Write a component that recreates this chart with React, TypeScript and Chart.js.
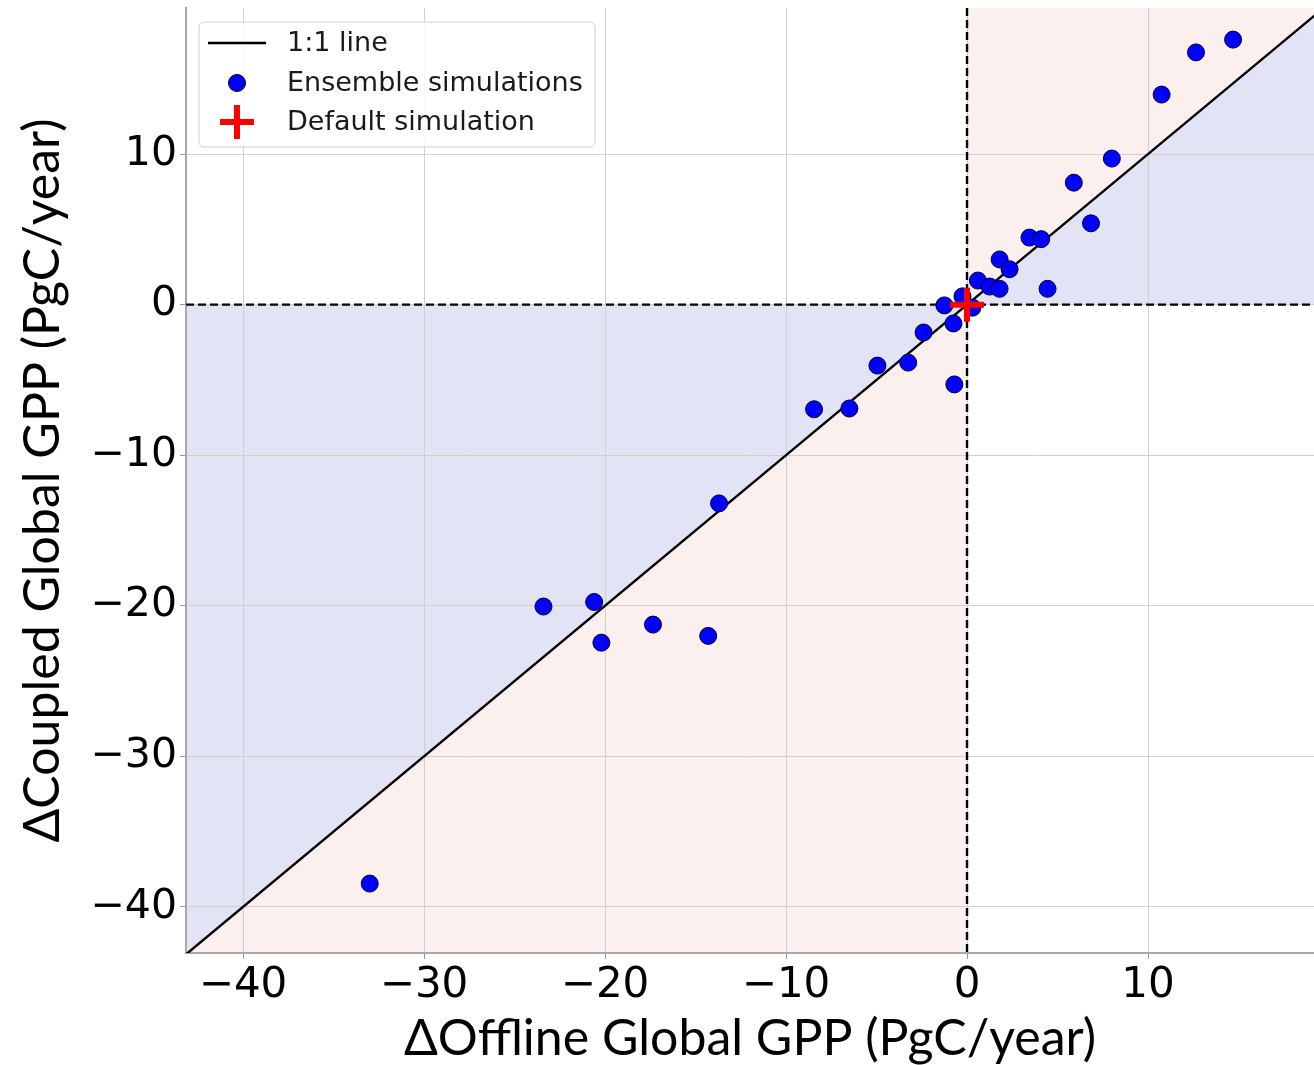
import React, { useEffect, useRef } from "react";
import { Chart, registerables } from "chart.js";

Chart.register(...registerables);

// Ensemble simulations (Δ offline GPP, Δ coupled GPP), PgC/year
const offlineGPP = [
  -33.0, -23.4, -20.6, -20.2, -17.35, -14.3, -13.7, -8.45, -6.5, -4.95,
  -3.25, -2.4, -1.25, -0.75, -0.7, -0.25, 0.3, 0.6, 1.25, 1.8,
  1.8, 2.35, 3.45, 4.1, 4.45, 6.85, 5.9, 8.0, 10.75, 12.65, 14.7,
];
const coupledGPP = [
  -38.45, -20.05, -19.75, -22.45, -21.25, -22.0, -13.2, -6.95, -6.9, -4.05,
  -3.85, -1.85, -0.05, -1.25, -5.3, 0.55, -0.2, 1.6, 1.2, 1.05,
  3.0, 2.35, 4.45, 4.35, 1.05, 5.4, 8.1, 9.7, 13.95, 16.75, 17.6,
];
const defaultOffline = [0];
const defaultCoupled = [0];
const oneToOne = [-100, 100];
const tickValues = [-40, -30, -20, -10, 0, 10];
const xLimits = [-43.15, 19.17];
const yLimits = [-43.06, 19.7];

const legendLabels = ["1:1 line", "Ensemble simulations", "Default simulation"];
const xTitle = "\u0394Offline Global GPP (PgC/year)";
const yTitle = "\u0394Coupled Global GPP (PgC/year)";

const BLUE_FILL = "#e3e3f6";
const PINK_FILL = "#fcf0ee";

const fmt = (v: number) => (v < 0 ? "\u2212" + Math.abs(v) : String(v));

const quadPlugin = {
  id: "quadrants",
  beforeDraw(chart: any) {
    const { ctx, chartArea: a, scales } = chart;
    const x = scales.x;
    const y = scales.y;
    const P = (vx: number, vy: number) => [x.getPixelForValue(vx), y.getPixelForValue(vy)];
    const poly = (pts: number[][], color: string) => {
      ctx.beginPath();
      pts.forEach((p, i) => {
        const [px, py] = P(p[0], p[1]);
        if (i === 0) ctx.moveTo(px, py);
        else ctx.lineTo(px, py);
      });
      ctx.closePath();
      ctx.fillStyle = color;
      ctx.fill();
    };
    ctx.save();
    ctx.beginPath();
    ctx.rect(a.left, a.top, a.right - a.left, a.bottom - a.top);
    ctx.clip();
    const L = -100;
    const H = 100;
    poly([[L, L], [0, 0], [L, 0]], BLUE_FILL);
    poly([[0, 0], [H, H], [H, 0]], BLUE_FILL);
    poly([[L, L], [0, 0], [0, L]], PINK_FILL);
    poly([[0, 0], [H, H], [0, H]], PINK_FILL);
    ctx.restore();
  },
  beforeDatasetsDraw(chart: any) {
    const { ctx, chartArea: a, scales } = chart;
    const px = scales.x.getPixelForValue(0);
    const py = scales.y.getPixelForValue(0);
    ctx.save();
    ctx.strokeStyle = "#000";
    ctx.lineWidth = 2.4;
    ctx.setLineDash([8, 4]);
    ctx.beginPath();
    ctx.moveTo(px, a.top);
    ctx.lineTo(px, a.bottom);
    ctx.moveTo(a.left, py);
    ctx.lineTo(a.right, py);
    ctx.stroke();
    ctx.restore();
  },
  afterDatasetsDraw(chart: any) {
    const { ctx, chartArea: a } = chart;
    const bx = a.left + 13;
    const by = a.top + 14;
    const bw = 396;
    const bh = 125;
    ctx.save();
    ctx.beginPath();
    if (ctx.roundRect) ctx.roundRect(bx, by, bw, bh, 5);
    else ctx.rect(bx, by, bw, bh);
    ctx.fillStyle = "rgba(255,255,255,0.85)";
    ctx.fill();
    ctx.strokeStyle = "#d0d0d0";
    ctx.lineWidth = 1;
    ctx.stroke();

    const rows = [by + 21, by + 61, by + 100];
    const cx = bx + 38;
    // line sample
    ctx.strokeStyle = "#000";
    ctx.lineWidth = 2.4;
    ctx.beginPath();
    ctx.moveTo(bx + 9, rows[0]);
    ctx.lineTo(bx + 67, rows[0]);
    ctx.stroke();
    // circle sample
    ctx.beginPath();
    ctx.arc(cx, rows[1], 8.5, 0, Math.PI * 2);
    ctx.fillStyle = "#0000ff";
    ctx.fill();
    ctx.strokeStyle = "#000033";
    ctx.lineWidth = 1;
    ctx.stroke();
    // cross sample
    ctx.strokeStyle = "#ff0000";
    ctx.lineWidth = 6;
    ctx.beginPath();
    ctx.moveTo(cx - 17, rows[2]);
    ctx.lineTo(cx + 17, rows[2]);
    ctx.moveTo(cx, rows[2] - 17);
    ctx.lineTo(cx, rows[2] + 17);
    ctx.stroke();

    ctx.fillStyle = "#1a1a1a";
    ctx.font = "27px 'DejaVu Sans'";
    ctx.textBaseline = "middle";
    ctx.textAlign = "left";
    legendLabels.forEach((t, i) => ctx.fillText(t, bx + 88, rows[i] + 1));
    ctx.restore();
  },
};

export default function App() {
  const ref = useRef<HTMLCanvasElement | null>(null);

  useEffect(() => {
    document.body.style.margin = "0";
    const canvas = ref.current;
    if (!canvas) return;

    const chart = new Chart(canvas, {
      type: "scatter",
      data: {
        datasets: [
          {
            label: legendLabels[2],
            data: defaultOffline.map((v, i) => ({ x: v, y: defaultCoupled[i] })),
            pointStyle: "cross",
            pointRadius: 17,
            pointBorderWidth: 6,
            borderColor: "#ff0000",
            backgroundColor: "#ff0000",
          },
          {
            label: legendLabels[1],
            data: offlineGPP.map((v, i) => ({ x: v, y: coupledGPP[i] })),
            pointStyle: "circle",
            pointRadius: 8.5,
            pointBorderWidth: 1,
            borderColor: "#000033",
            backgroundColor: "#0000ff",
          },
          {
            type: "line",
            label: legendLabels[0],
            data: oneToOne.map((v) => ({ x: v, y: v })),
            borderColor: "#000",
            borderWidth: 2.4,
            pointRadius: 0,
            fill: false,
          } as any,
        ],
      },
      options: {
        animation: false,
        responsive: false,
        maintainAspectRatio: false,
        layout: { autoPadding: false, padding: { top: 8, right: 0, left: 0, bottom: 0 } },
        plugins: {
          legend: { display: false },
          tooltip: { enabled: false },
        },
        scales: {
          x: {
            type: "linear",
            min: xLimits[0],
            max: xLimits[1],
            afterBuildTicks: (s: any) => {
              s.ticks = tickValues.map((v) => ({ value: v }));
            },
            afterFit: (s: any) => {
              s.height = 112;
              s.paddingLeft = 0;
              s.paddingRight = 0;
            },
            ticks: {
              callback: (v: any) => fmt(Number(v)),
              color: "#000",
              font: { family: "'DejaVu Sans'", size: 42 },
              padding: 2,
              maxRotation: 0,
            },
            grid: { color: "#d0d0d0", lineWidth: 1, tickLength: 6, tickColor: "#999" },
            border: { color: "#a8a8a8", width: 2 },
            title: {
              display: true,
              text: xTitle,
              color: "#000",
              font: { family: "Lato", size: 50 },
              padding: { top: 0, bottom: -4 },
            },
          },
          y: {
            type: "linear",
            min: yLimits[0],
            max: yLimits[1],
            afterBuildTicks: (s: any) => {
              s.ticks = tickValues.map((v) => ({ value: v }));
            },
            afterFit: (s: any) => {
              s.width = 186;
              s.paddingTop = 0;
              s.paddingBottom = 0;
            },
            ticks: {
              callback: (v: any) => fmt(Number(v)),
              color: "#000",
              font: { family: "'DejaVu Sans'", size: 41 },
              padding: 3,
            },
            grid: { color: "#d0d0d0", lineWidth: 1, tickLength: 6, tickColor: "#999" },
            border: { color: "#a8a8a8", width: 2 },
            title: {
              display: true,
              text: yTitle,
              color: "#000",
              font: { family: "Lato", size: 50 },
              padding: { top: 13, bottom: 0 },
            },
          },
        },
      },
      plugins: [quadPlugin],
    });

    return () => chart.destroy();
  }, []);

  return (
    <div style={{ width: 1314, height: 1065 }}>
      <canvas ref={ref} width={1314} height={1065} style={{ display: "block" }} />
    </div>
  );
}
